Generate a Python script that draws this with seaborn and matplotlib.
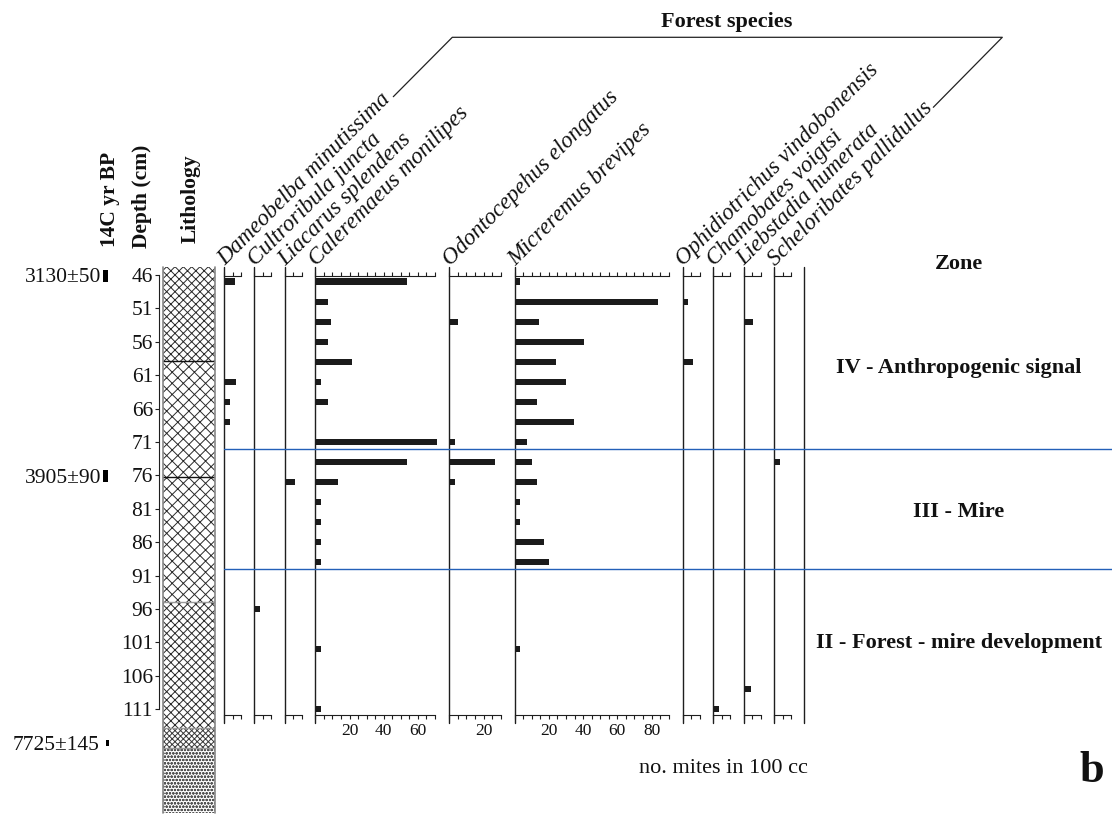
import numpy as np
import pandas as pd
import matplotlib
matplotlib.use("Agg")
import matplotlib.pyplot as plt
import matplotlib.transforms as mtrans
from matplotlib.patches import Rectangle
import seaborn as sns

sns.set_style("white")
plt.rcParams["font.family"] = ["Liberation Serif", "DejaVu Serif"]
plt.rcParams["hatch.linewidth"] = 0.7

# ---------------------------------------------------------------- data
depths = [47, 50, 53, 56, 59, 62, 65, 68, 71, 74, 77, 80, 83, 86, 89, 96, 102, 108, 111]

dameobelba = [6.4, 0, 0, 0, 0, 7.0, 3.5, 3.5, 0, 0, 0, 0, 0, 0, 0, 0, 0, 0, 0]
cultroribula = [0, 0, 0, 0, 0, 0, 0, 0, 0, 0, 0, 0, 0, 0, 0, 3.8, 0, 0, 0]
liacarus = [0, 0, 0, 0, 0, 0, 0, 0, 0, 0, 6.2, 0, 0, 0, 0, 0, 0, 0, 0]
caleremaeus = [53.4, 7.6, 9.2, 7.6, 21.3, 3.3, 7.6, 0, 71.0, 53.4, 13.5, 3.3, 3.3, 3.3, 3.3, 0, 3.3, 0, 3.3]
odontocepehus = [0, 0, 5.1, 0, 0, 0, 0, 0, 3.3, 27.0, 3.3, 0, 0, 0, 0, 0, 0, 0, 0]
micreremus = [3.1, 83.8, 14.2, 40.5, 24.3, 30.2, 13.0, 34.5, 7.0, 10.1, 13.0, 3.3, 3.3, 17.3, 20.2, 0, 3.3, 0, 0]
ophidiotrichus = [0, 3.4, 0, 0, 6.3, 0, 0, 0, 0, 0, 0, 0, 0, 0, 0, 0, 0, 0, 0]
chamobates = [0, 0, 0, 0, 0, 0, 0, 0, 0, 0, 0, 0, 0, 0, 0, 0, 0, 0, 3.3]
liebstadia = [0, 0, 5.3, 0, 0, 0, 0, 0, 0, 0, 0, 0, 0, 0, 0, 0, 0, 4.3, 0]
scheloribates = [0, 0, 0, 0, 0, 0, 0, 0, 0, 3.3, 0, 0, 0, 0, 0, 0, 0, 0, 0]

taxa = ["Dameobelba minutissima", "Cultroribula juncta", "Liacarus splendens",
        "Caleremaeus monilipes", "Odontocepehus elongatus", "Micreremus brevipes",
        "Ophidiotrichus vindobonensis", "Chamobates voigtsi", "Liebstadia humerata",
        "Scheloribates pallidulus"]
series = [dameobelba, cultroribula, liacarus, caleremaeus, odontocepehus, micreremus,
          ophidiotrichus, chamobates, liebstadia, scheloribates]
scale_max = [10, 10, 10, 70, 30, 90, 10, 10, 10, 10]
scale_labels = [[], [], [], [20, 40, 60], [20], [20, 40, 60, 80], [], [], [], []]

depth_ticks = list(range(46, 112, 5))

zone_bounds = [72, 90]
zone_names = ["Zone", "IV - Anthropogenic signal", "III - Mire", "II - Forest - mire development"]
zone_label_depths = [45.1, 60.6, 82.3, 101.9]

radiocarbon = ["3130±50", "3905±90", "7725±145"]
radiocarbon_depth = [46.4, 76.4, 116.4]
radiocarbon_span = [(45.25, 47.05), (75.2, 77.05), (115.6, 116.5)]

litho_top = [44.8, 58.9, 76.2, 95.0, 113.8, 116.8]
litho_bot = [58.9, 76.2, 95.0, 113.8, 116.8, 126.5]
litho_hatch = ["xxxx", "xxx", "xxx", "xxxx", "xxxxxx", "ooooo"]
litho_ink = ["#2a2a2a", "#2a2a2a", "#2a2a2a", "#2a2a2a", "#3a3a3a", "#555555"]

df = pd.DataFrame({"depth": depths, **dict(zip(taxa, series))})

# ---------------------------------------------------------------- layout
W, H = 1112, 815
PX_PER_CM = 6.68
Y46 = 275.0
PX_PER_UNIT = 1.71
PANEL_TOP, PANEL_BOT = 275.7, 715.0
panel_x = [224, 254, 284.7, 315.3, 449.3, 514.7, 682.5, 713.3, 743.7, 774.3, 804.3]
AXC = "#1e1e1e"
BAR = "#1b1b1b"
BLUE = "#2360b8"


def depth_at(y):
    return 46 + (y - Y46) / PX_PER_CM


def box(x0, x1, y_top, y_bot):
    return [x0 / W, 1 - y_bot / H, (x1 - x0) / W, (y_bot - y_top) / H]


fig = plt.figure(figsize=(W / 100, H / 100), dpi=100)
fig.patch.set_facecolor("white")

# canvas for headers and the bracket
ax_c = fig.add_axes([0, 0, 1, 1], zorder=-5)
ax_c.set_xlim(0, W)
ax_c.set_ylim(H, 0)
ax_c.axis("off")

# ---------------------------------------------------------------- taxon panels
for i, name in enumerate(taxa):
    x0, x1 = panel_x[i], panel_x[i + 1]
    ax = fig.add_axes(box(x0, x1, PANEL_TOP, PANEL_BOT))
    sns.barplot(data=df, x=name, y="depth", orient="h", native_scale=True,
                color=BAR, saturation=1, width=0.32, errorbar=None,
                linewidth=0, ax=ax)
    ax.set_xlim(0, (x1 - x0) / PX_PER_UNIT)
    ax.set_ylim(depth_at(PANEL_BOT), depth_at(PANEL_TOP))
    ax.patch.set_alpha(0)
    ax.set_xlabel("")
    ax.set_ylabel("")
    ax.set_yticks([])
    tmax = scale_max[i]
    ticks = np.arange(0, tmax + 0.1, 5)
    labels = [str(int(t)) if int(t) in scale_labels[i] else "" for t in ticks]
    ax.set_xticks(ticks, labels)
    ax.tick_params(axis="x", which="major", top=True, bottom=True,
                   labeltop=False, labelbottom=True, direction="out",
                   length=3, width=0.8, color=AXC, labelsize=12.5,
                   labelcolor="#111", pad=3)
    for s in ["left", "right"]:
        ax.spines[s].set_visible(False)
    for s in ["top", "bottom"]:
        ax.spines[s].set_visible(True)
        ax.spines[s].set_bounds(0, tmax)
        ax.spines[s].set_color(AXC)
        ax.spines[s].set_linewidth(0.8)
    ax.axvline(0, ymin=-0.018, ymax=1.02, color=AXC, lw=1.0, clip_on=False)
    if i == len(taxa) - 1:
        ax.axvline(ax.get_xlim()[1], ymin=-0.018, ymax=1.02, color=AXC,
                   lw=1.0, clip_on=False)
    ax_c.text(x0 + 1, 266, name, rotation=45, rotation_mode="anchor",
              ha="left", va="baseline", fontstyle="italic", fontsize=16.6,
              color="#111")

# ---------------------------------------------------------------- lithology + depth
ax_l = fig.add_axes(box(163.3, 215, 267, 813))
ax_l.set_xlim(0, 1)
ax_l.set_ylim(depth_at(813), depth_at(267))
ax_l.patch.set_alpha(0)
for d0, d1, h, ink in zip(litho_top, litho_bot, litho_hatch, litho_ink):
    ax_l.add_patch(Rectangle((0, d0), 1, d1 - d0, facecolor="white",
                             edgecolor=ink, lw=0, hatch=h))
for d, c in zip(litho_top[1:], ["#111", "#111", "#999", "#999", "#999"]):
    ax_l.axhline(d, color=c, lw=1.0)
ax_l.axvline(0, color="#888", lw=1.2, clip_on=False)
ax_l.axvline(1, color="#888", lw=1.2, clip_on=False)
for s in ["top", "bottom", "right"]:
    ax_l.spines[s].set_visible(False)
ax_l.spines["left"].set_position(("outward", 2.9))
ax_l.spines["left"].set_bounds(46, 111)
ax_l.spines["left"].set_color(AXC)
ax_l.spines["left"].set_linewidth(0.8)
ax_l.set_xticks([])
ax_l.set_yticks(depth_ticks, [str(d) for d in depth_ticks])
ax_l.tick_params(axis="y", left=True, direction="out", length=3,
                 width=0.8, color=AXC, pad=1.5, labelsize=15.5,
                 labelcolor="#111")

blend = mtrans.blended_transform_factory(fig.transFigure, ax_l.transData)
for lab, d, (a, b), xr in zip(radiocarbon, radiocarbon_depth, radiocarbon_span,
                             [101, 101, 100]):
    ax_l.text(xr / W, d, lab, transform=blend, ha="right", va="center",
              fontsize=15.5, color="#111", clip_on=False)
    mx = 103 if xr == 101 else 106
    mw = 5 if xr == 101 else 3
    ax_l.add_patch(Rectangle((mx / W, a), mw / W, b - a, transform=blend,
                             facecolor="black", lw=0, clip_on=False))

# ---------------------------------------------------------------- zones
ax_z = fig.add_axes(box(224, W, PANEL_TOP, PANEL_BOT))
ax_z.set_xlim(0, 1)
ax_z.set_ylim(depth_at(PANEL_BOT), depth_at(PANEL_TOP))
ax_z.axis("off")
for b in zone_bounds:
    ax_z.axhline(b, color=BLUE, lw=1.0)
zx = (959 - 224) / (W - 224)
for name, d in zip(zone_names, zone_label_depths):
    ax_z.text(zx, d, name, ha="center", va="baseline", fontweight="bold",
              fontsize=16, color="#111", clip_on=False)

# ---------------------------------------------------------------- headers
for txt, x, yb in [("14C yr BP", 110, 247), ("Depth (cm)", 142, 248),
                   ("Lithology", 191, 243)]:
    ax_c.text(x, yb, txt, rotation=90, ha="center", va="bottom",
              fontweight="bold", fontsize=15.5, color="#111")

ax_c.plot([393.3, 452.3, 1002.3, 933.3], [96.7, 37.3, 37.3, 107.3],
          color="#222", lw=0.9)
ax_c.text(727, 27, "Forest species", ha="center", va="baseline",
          fontweight="bold", fontsize=16, color="#111")
ax_c.text(723.5, 773, "no. mites in 100 cc", ha="center", va="baseline",
          fontsize=16, color="#111")
ax_c.text(1092, 782, "b", ha="center", va="baseline", fontweight="bold",
          fontsize=32, color="#111")

fig.savefig("out.png", dpi=100)
